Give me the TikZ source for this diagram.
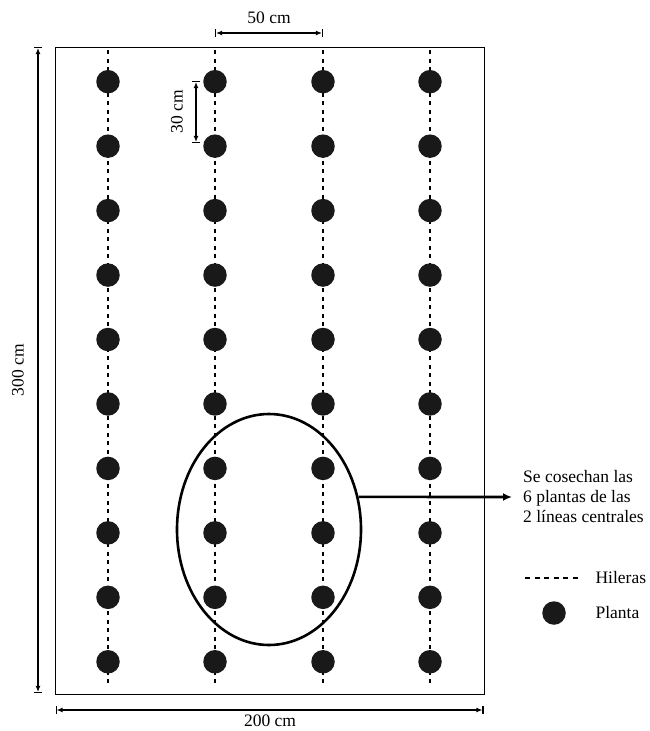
\documentclass[tikz,border=0pt]{standalone}
\usepackage{fontspec}
\setmainfont{Liberation Serif}
\usetikzlibrary{arrows.meta,shapes.geometric}

\begin{document}
\begin{tikzpicture}[x=1pt,y=-1pt,>={Latex[length=6pt,width=5pt]},
    font=\fontsize{17.5}{20}\selectfont,
    planta/.style={circle,fill=black!90,minimum size=23.5pt,inner sep=0pt},
    hilera/.style={line width=2pt,dash pattern=on 4pt off 4.5pt},
    cota/.style={|<->|,line width=1.1pt}]
      \useasboundingbox (0,0) rectangle (650,731);
      \node[draw,line width=0.8pt,minimum width=429.5pt,minimum height=646.5pt,inner sep=0pt] (campo) at (269.75,370.75) {};
      % hileras y plantas
      \foreach \c [count=\i] in {108,215,323,430} {
        \coordinate (h-\i-a) at (\c,50);
        \coordinate (h-\i-b) at (\c,687);
        \draw[hilera] (h-\i-a) -- (h-\i-b);
        \foreach \j in {1,...,10}
          \node[planta] (p-\i-\j) at (\c,{17.25+64.45*\j}) {};
      }
      \node[draw,ellipse,line width=2.6pt,minimum width=184pt,minimum height=231pt] (zona) at (269,529.5) {};
      \node[align=left,anchor=west,inner sep=0pt] (nota) at (523,497) {Se cosechan las\\6 plantas de las\\2 líneas centrales};
      \draw[-{Latex[length=9pt,width=8pt]},line width=2.6pt] (zona.20) -- ([xshift=-11pt]nota.west);
      % cotas
      \coordinate (v1) at (38,47);
      \coordinate (v2) at (38,693);
      \draw[cota] (v1) -- (v2);
      \node[rotate=90] (L300) at (18,370) {300 cm};
      \coordinate (w1) at (55.5,710);
      \coordinate (w2) at (483.5,710);
      \draw[cota] (w1) -- (w2);
      \node[inner sep=1pt] (L200) at (270,720.5) {200 cm};
      \draw[cota] (p-2-1 |- 0,33) -- (p-3-1 |- 0,33) node[midway,above=5pt] (L50) {50 cm};
      \draw[cota] (196,81) -- (196,143);
      \node[rotate=90] (L30) at (177,112) {30 cm};
      % leyenda
      \coordinate (l1) at (525,578);
      \coordinate (l2) at (581,578);
      \draw[line width=1.6pt,dash pattern=on 5pt off 4.5pt] (l1) -- (l2);
      \node[anchor=west] (Lhil) at (592,578) {Hileras};
      \node[planta] (ley) at (554,613) {};
      \node[anchor=west] (Lpla) at (592,613) {Planta};
    \end{tikzpicture}
\end{document}
